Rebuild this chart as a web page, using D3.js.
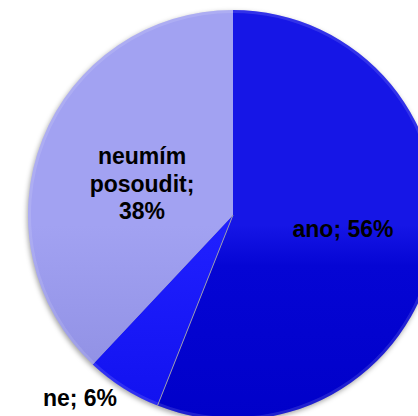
<!DOCTYPE html>
<html><head><meta charset="utf-8">
<script src="https://cdn.jsdelivr.net/npm/d3@7"></script>
<style>html,body{margin:0;padding:0;background:#fff;overflow:hidden}</style>
</head><body>
<script>
const categories = ["ano", "ne", "neumím posoudit"];
const values = [56, 6, 38];
const labelLines = [["ano; 56%"], ["ne; 6%"], ["neumím", "posoudit;", "38%"]];

const W = 418, H = 416, cx = 233, cy = 215, R = 205;
const svg = d3.select("body").append("svg").attr("width", W).attr("height", H);
const defs = svg.append("defs");

const grads = [
  [["0", "#1616e6"], ["0.1", "#0505d4"], ["0.5", "#0000c8"], ["1", "#0000b2"]],
  [["0", "#2020ff"], ["1", "#0000dc"]],
  [["0", "#a2a2f2"], ["0.5", "#8a8adf"], ["1", "#7272c2"]]
];
grads.forEach((stops, i) => {
  const g = defs.append("linearGradient").attr("id", "g" + i)
    .attr("gradientUnits", "userSpaceOnUse")
    .attr("x1", 0).attr("y1", cy - R).attr("x2", 0).attr("y2", cy + R);
  stops.forEach(s => g.append("stop").attr("offset", s[0]).attr("stop-color", s[1]));
});
defs.append("filter").attr("id", "blur").attr("x", "-10%").attr("y", "-10%").attr("width", "120%").attr("height", "120%")
  .append("feGaussianBlur").attr("stdDeviation", 2.5);

const pie = d3.pie().sort(null).value(d => d)(values);
const arc = d3.arc().innerRadius(0).outerRadius(R);
const rim = d3.arc().innerRadius(R - 3).outerRadius(R);

const g = svg.append("g").attr("transform", `translate(${cx},${cy})`);
// soft shadow behind the pie
g.append("circle").attr("cx", -1).attr("cy", 2).attr("r", R)
  .attr("fill", "rgba(0,0,0,0.35)").attr("filter", "url(#blur)");
g.selectAll("path.slice").data(pie).join("path").attr("class", "slice")
  .attr("d", arc).attr("fill", (d, i) => `url(#g${i})`);
// subtle bevel on the outer rim
g.selectAll("path.rim").data(pie).join("path").attr("class", "rim")
  .attr("d", rim).attr("fill", "rgba(255,255,255,0.12)");
// thin separator between ano and ne
const a = pie[0].endAngle;
g.append("line").attr("x1", 0).attr("y1", 0)
  .attr("x2", R * Math.sin(a)).attr("y2", -R * Math.cos(a))
  .attr("stroke", "#9a9ab0").attr("stroke-width", 1);

const labelPos = [[343, 237], [80, 406], [142, 164]];
const font = "'Liberation Sans', Arial, sans-serif";
labelLines.forEach((lines, i) => {
  const t = svg.append("text").attr("x", labelPos[i][0]).attr("y", labelPos[i][1])
    .attr("text-anchor", "middle").attr("font-family", font).attr("font-weight", "bold")
    .attr("font-size", 23).attr("fill", "#000");
  lines.forEach((l, j) => t.append("tspan").attr("x", labelPos[i][0]).attr("dy", j === 0 ? 0 : 27.5).text(l));
});
</script>
</body></html>
